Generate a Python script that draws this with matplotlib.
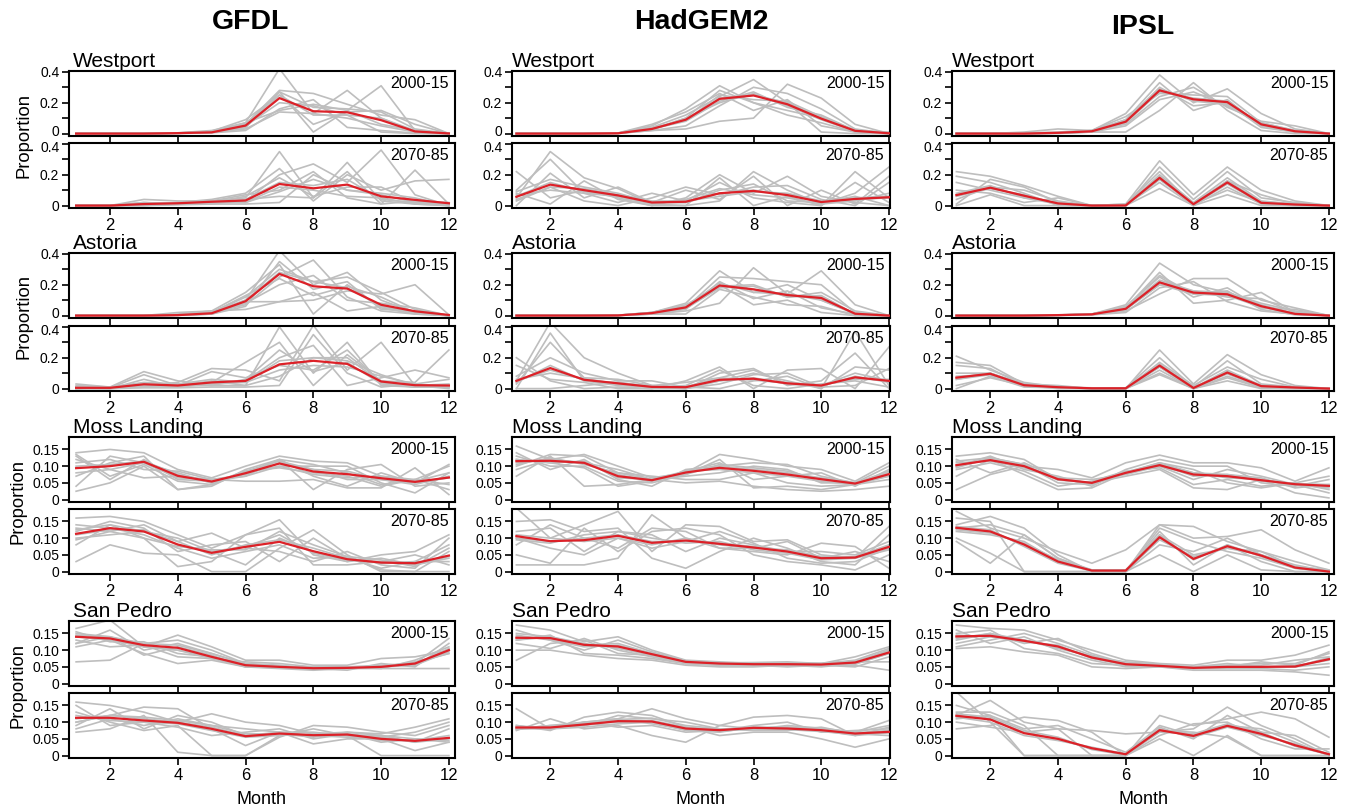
import numpy as np
import matplotlib
matplotlib.use("Agg")
import matplotlib.pyplot as plt
import matplotlib.transforms as mtransforms

plt.rcParams['font.family'] = ['Liberation Sans', 'DejaVu Sans']

months = np.arange(1, 13)
models = ["GFDL", "HadGEM2", "IPSL"]
sites = ["Westport", "Astoria", "Moss Landing", "San Pedro"]
periods = ["2000-15", "2070-85"]

# ---------------- GFDL ----------------
gfdl_westport_hist_mean = [0, 0, 0, 0.003, 0.008, 0.052, 0.23, 0.145, 0.138, 0.087, 0.014, 0.001]
gfdl_westport_hist_runs = [
    [0, 0, 0, 0.005, 0.02, 0.07, 0.42, 0.13, 0.10, 0.05, 0.01, 0],
    [0, 0, 0, 0.003, 0.01, 0.04, 0.27, 0.01, 0.15, 0.31, 0.02, 0],
    [0, 0, 0, 0.002, 0.01, 0.06, 0.28, 0.26, 0.19, 0.12, 0.09, 0],
    [0, 0, 0, 0.002, 0.008, 0.03, 0.14, 0.13, 0.28, 0.10, 0.02, 0],
    [0, 0, 0, 0.001, 0.005, 0.02, 0.16, 0.22, 0.04, 0.02, 0.003, 0],
    [0, 0, 0, 0.004, 0.015, 0.09, 0.25, 0.06, 0.14, 0.15, 0.06, 0],
    [0, 0, 0, 0.003, 0.01, 0.05, 0.20, 0.18, 0.12, 0.01, 0.0, 0],
    [0, 0, 0, 0.004, 0.01, 0.06, 0.27, 0.17, 0.16, 0.14, 0.03, 0],
    [0, 0, 0, 0.002, 0.006, 0.04, 0.25, 0.12, 0.12, 0.10, 0.01, 0],
    [0, 0, 0, 0.003, 0.009, 0.07, 0.15, 0.19, 0.15, 0.06, 0.02, 0],
]
gfdl_westport_fut_mean = [0, 0, 0.01, 0.015, 0.025, 0.033, 0.14, 0.112, 0.136, 0.06, 0.037, 0.015]
gfdl_westport_fut_runs = [
    [0, 0, 0.04, 0.03, 0.03, 0.05, 0.35, 0.05, 0.28, 0.03, 0.01, 0],
    [0, 0, 0.01, 0.01, 0.02, 0.03, 0.20, 0.27, 0.15, 0.36, 0.07, 0],
    [0, 0, 0.005, 0.01, 0.03, 0.07, 0.10, 0.22, 0.05, 0.01, 0.23, 0.01],
    [0, 0, 0.01, 0.02, 0.04, 0.08, 0.24, 0.03, 0.20, 0.10, 0.16, 0.17],
    [0, 0, 0, 0.005, 0.01, 0.01, 0.02, 0.20, 0.10, 0.07, 0.02, 0],
    [0, 0, 0.02, 0.01, 0.02, 0.02, 0.12, 0.10, 0.06, 0.05, 0.01, 0],
    [0, 0, 0, 0.01, 0.01, 0.04, 0.06, 0.05, 0.22, 0.01, 0.03, 0.02],
    [0, 0, 0.02, 0.01, 0.02, 0.04, 0.15, 0.13, 0.17, 0.04, 0.02, 0.01],
    [0, 0, 0.005, 0.02, 0.03, 0.02, 0.09, 0.17, 0.10, 0.08, 0.05, 0],
    [0, 0, 0.01, 0.015, 0.02, 0.06, 0.18, 0.06, 0.12, 0.12, 0.02, 0.01],
]
gfdl_astoria_hist_mean = [0, 0, 0, 0.003, 0.015, 0.093, 0.27, 0.19, 0.175, 0.07, 0.028, 0.004]
gfdl_astoria_hist_runs = [
    [0, 0, 0, 0.005, 0.02, 0.10, 0.42, 0.20, 0.28, 0.10, 0.02, 0],
    [0, 0, 0, 0.01, 0.03, 0.15, 0.33, 0.01, 0.20, 0.05, 0.01, 0],
    [0, 0, 0, 0.002, 0.01, 0.09, 0.09, 0.10, 0.16, 0.14, 0.20, 0.005],
    [0, 0, 0, 0.003, 0.02, 0.07, 0.25, 0.36, 0.12, 0.03, 0.01, 0],
    [0, 0, 0, 0.02, 0.03, 0.04, 0.09, 0.15, 0.03, 0.06, 0.02, 0],
    [0, 0, 0, 0.004, 0.02, 0.12, 0.30, 0.22, 0.25, 0.15, 0.04, 0],
    [0, 0, 0, 0.002, 0.01, 0.08, 0.20, 0.26, 0.10, 0.08, 0.05, 0],
    [0, 0, 0, 0.005, 0.02, 0.10, 0.28, 0.22, 0.18, 0.06, 0.02, 0],
    [0, 0, 0, 0.003, 0.01, 0.06, 0.35, 0.17, 0.22, 0.04, 0.03, 0],
    [0, 0, 0, 0.002, 0.02, 0.13, 0.24, 0.13, 0.19, 0.12, 0.02, 0],
]
gfdl_astoria_fut_mean = [0.005, 0.005, 0.028, 0.02, 0.04, 0.05, 0.157, 0.18, 0.16, 0.046, 0.022, 0.02]
gfdl_astoria_fut_runs = [
    [0.03, 0.01, 0.11, 0.05, 0.02, 0.02, 0.40, 0.10, 0.30, 0.02, 0.01, 0.02],
    [0.01, 0.005, 0.02, 0.04, 0.13, 0.12, 0.05, 0.41, 0.12, 0.30, 0.02, 0],
    [0, 0, 0.06, 0.01, 0.04, 0.17, 0.30, 0.02, 0.22, 0.05, 0.04, 0.25],
    [0.02, 0.01, 0.01, 0.03, 0.03, 0.05, 0.20, 0.28, 0.02, 0.07, 0.12, 0.07],
    [0, 0, 0.005, 0.005, 0.01, 0.01, 0.02, 0.35, 0.10, 0.01, 0.03, 0.005],
    [0.01, 0.005, 0.09, 0.02, 0.11, 0.07, 0.15, 0.12, 0.25, 0.04, 0.01, 0.01],
    [0, 0.01, 0.03, 0.02, 0.05, 0.02, 0.08, 0.20, 0.18, 0.09, 0.02, 0.03],
    [0.01, 0.005, 0.02, 0.01, 0.03, 0.04, 0.18, 0.20, 0.20, 0.04, 0.02, 0.01],
    [0, 0.01, 0.04, 0.03, 0.06, 0.04, 0.12, 0.15, 0.14, 0.08, 0.03, 0.06],
    [0.005, 0, 0.015, 0.02, 0.02, 0.06, 0.25, 0.11, 0.17, 0.03, 0.01, 0.01],
]
gfdl_moss_hist_mean = [0.094, 0.1, 0.113, 0.071, 0.054, 0.079, 0.108, 0.084, 0.076, 0.064, 0.053, 0.066]
gfdl_moss_hist_runs = [
    [0.14, 0.15, 0.14, 0.09, 0.065, 0.10, 0.13, 0.115, 0.11, 0.07, 0.06, 0.10],
    [0.025, 0.05, 0.10, 0.03, 0.04, 0.09, 0.12, 0.03, 0.09, 0.105, 0.04, 0.05],
    [0.12, 0.09, 0.065, 0.07, 0.06, 0.055, 0.055, 0.06, 0.035, 0.035, 0.095, 0.015],
    [0.04, 0.13, 0.11, 0.08, 0.05, 0.08, 0.10, 0.10, 0.10, 0.05, 0.02, 0.08],
    [0.13, 0.06, 0.12, 0.06, 0.055, 0.07, 0.12, 0.07, 0.04, 0.08, 0.05, 0.105],
    [0.07, 0.11, 0.13, 0.03, 0.045, 0.085, 0.095, 0.08, 0.07, 0.04, 0.06, 0.03],
    [0.11, 0.12, 0.09, 0.085, 0.06, 0.075, 0.11, 0.09, 0.06, 0.06, 0.045, 0.07],
    [0.10, 0.105, 0.115, 0.075, 0.05, 0.085, 0.115, 0.09, 0.085, 0.06, 0.05, 0.065],
    [0.08, 0.09, 0.11, 0.065, 0.06, 0.07, 0.10, 0.075, 0.065, 0.07, 0.055, 0.08],
    [0.135, 0.07, 0.105, 0.055, 0.045, 0.08, 0.12, 0.105, 0.08, 0.045, 0.06, 0.045],
]
gfdl_moss_fut_mean = [0.113, 0.13, 0.12, 0.081, 0.056, 0.074, 0.089, 0.061, 0.037, 0.027, 0.025, 0.048]
gfdl_moss_fut_runs = [
    [0.16, 0.165, 0.15, 0.11, 0.07, 0.11, 0.155, 0.05, 0.03, 0.05, 0.06, 0.11],
    [0.03, 0.08, 0.055, 0.05, 0.0, 0.0, 0.07, 0.125, 0.05, 0.0, 0.0, 0.0],
    [0.13, 0.12, 0.14, 0.09, 0.115, 0.07, 0.06, 0.03, 0.06, 0.02, 0.01, 0.10],
    [0.08, 0.14, 0.10, 0.015, 0.03, 0.11, 0.13, 0.02, 0.02, 0.03, 0.05, 0.02],
    [0.12, 0.15, 0.13, 0.06, 0.08, 0.09, 0.03, 0.10, 0.04, 0.01, 0.03, 0.08],
    [0.10, 0.11, 0.12, 0.10, 0.06, 0.02, 0.10, 0.06, 0.03, 0.04, 0.02, 0.04],
    [0.14, 0.13, 0.11, 0.07, 0.04, 0.06, 0.08, 0.04, 0.045, 0.005, 0.0, 0.06],
    [0.11, 0.125, 0.125, 0.08, 0.06, 0.075, 0.11, 0.055, 0.035, 0.03, 0.02, 0.045],
    [0.125, 0.14, 0.12, 0.09, 0.05, 0.08, 0.095, 0.07, 0.04, 0.025, 0.03, 0.03],
    [0.095, 0.12, 0.10, 0.075, 0.065, 0.065, 0.12, 0.08, 0.045, 0.035, 0.015, 0.07],
]
gfdl_sanpedro_hist_mean = [0.14, 0.135, 0.115, 0.107, 0.08, 0.055, 0.05, 0.046, 0.047, 0.05, 0.06, 0.1]
gfdl_sanpedro_hist_runs = [
    [0.065, 0.07, 0.12, 0.13, 0.10, 0.06, 0.05, 0.045, 0.05, 0.055, 0.06, 0.135],
    [0.165, 0.19, 0.11, 0.145, 0.11, 0.07, 0.07, 0.055, 0.055, 0.075, 0.08, 0.10],
    [0.11, 0.13, 0.09, 0.06, 0.07, 0.05, 0.045, 0.04, 0.045, 0.045, 0.045, 0.045],
    [0.155, 0.125, 0.125, 0.09, 0.08, 0.055, 0.05, 0.05, 0.05, 0.05, 0.065, 0.09],
    [0.12, 0.16, 0.10, 0.12, 0.09, 0.06, 0.055, 0.045, 0.04, 0.06, 0.05, 0.12],
    [0.13, 0.11, 0.115, 0.08, 0.075, 0.065, 0.06, 0.05, 0.05, 0.045, 0.07, 0.11],
    [0.145, 0.14, 0.085, 0.11, 0.085, 0.05, 0.05, 0.045, 0.05, 0.05, 0.055, 0.095],
    [0.14, 0.13, 0.11, 0.10, 0.08, 0.055, 0.05, 0.045, 0.048, 0.05, 0.06, 0.10],
    [0.15, 0.14, 0.12, 0.115, 0.09, 0.058, 0.052, 0.048, 0.047, 0.052, 0.058, 0.105],
    [0.12, 0.14, 0.11, 0.10, 0.075, 0.05, 0.048, 0.043, 0.045, 0.048, 0.062, 0.09],
]
gfdl_sanpedro_fut_mean = [0.113, 0.113, 0.105, 0.098, 0.08, 0.058, 0.066, 0.061, 0.063, 0.05, 0.044, 0.053]
gfdl_sanpedro_fut_runs = [
    [0.16, 0.15, 0.13, 0.10, 0.125, 0.10, 0.09, 0.065, 0.07, 0.065, 0.085, 0.11],
    [0.07, 0.08, 0.12, 0.01, 0.0, 0.0, 0.06, 0.08, 0.06, 0.0, 0.0, 0.0],
    [0.10, 0.12, 0.145, 0.14, 0.08, 0.03, 0.07, 0.035, 0.05, 0.05, 0.015, 0.04],
    [0.13, 0.10, 0.075, 0.09, 0.0, 0.0, 0.055, 0.09, 0.085, 0.07, 0.06, 0.09],
    [0.09, 0.14, 0.08, 0.12, 0.10, 0.06, 0.065, 0.06, 0.055, 0.055, 0.07, 0.10],
    [0.15, 0.09, 0.10, 0.085, 0.06, 0.07, 0.08, 0.05, 0.065, 0.04, 0.05, 0.045],
    [0.08, 0.11, 0.09, 0.11, 0.09, 0.08, 0.07, 0.07, 0.06, 0.06, 0.04, 0.08],
    [0.11, 0.12, 0.11, 0.10, 0.085, 0.06, 0.07, 0.06, 0.065, 0.055, 0.04, 0.05],
    [0.12, 0.105, 0.10, 0.095, 0.075, 0.055, 0.06, 0.065, 0.06, 0.045, 0.045, 0.06],
    [0.10, 0.12, 0.115, 0.105, 0.09, 0.065, 0.065, 0.055, 0.07, 0.06, 0.05, 0.04],
]

# ---------------- HadGEM2 ----------------
had_westport_hist_mean = [0, 0, 0, 0.002, 0.03, 0.09, 0.225, 0.247, 0.19, 0.097, 0.018, 0.002]
had_westport_hist_runs = [
    [0, 0, 0, 0.003, 0.05, 0.16, 0.31, 0.20, 0.15, 0.10, 0.02, 0],
    [0, 0, 0, 0.002, 0.02, 0.03, 0.08, 0.10, 0.32, 0.23, 0.06, 0],
    [0, 0, 0, 0.003, 0.04, 0.12, 0.24, 0.35, 0.20, 0.01, 0.0, 0],
    [0, 0, 0, 0.001, 0.02, 0.05, 0.18, 0.30, 0.26, 0.16, 0.03, 0],
    [0, 0, 0, 0.002, 0.03, 0.10, 0.28, 0.20, 0.12, 0.07, 0.01, 0],
    [0, 0, 0, 0.002, 0.03, 0.08, 0.21, 0.27, 0.17, 0.12, 0.02, 0.01],
    [0, 0, 0, 0.004, 0.06, 0.14, 0.26, 0.15, 0.22, 0.05, 0.01, 0],
    [0, 0, 0, 0.002, 0.03, 0.09, 0.23, 0.25, 0.20, 0.10, 0.02, 0],
    [0, 0, 0, 0.003, 0.025, 0.10, 0.20, 0.26, 0.18, 0.09, 0.015, 0],
    [0, 0, 0, 0.002, 0.035, 0.085, 0.25, 0.22, 0.21, 0.11, 0.02, 0.005],
]
had_westport_fut_mean = [0.057, 0.136, 0.1, 0.066, 0.02, 0.025, 0.08, 0.095, 0.068, 0.023, 0.043, 0.054]
had_westport_fut_runs = [
    [0.22, 0.05, 0.10, 0.05, 0.0, 0.05, 0.20, 0.08, 0.19, 0.06, 0.02, 0.0],
    [0.05, 0.35, 0.18, 0.11, 0.01, 0.0, 0.03, 0.22, 0.10, 0.01, 0.08, 0.25],
    [0.10, 0.30, 0.08, 0.02, 0.08, 0.03, 0.15, 0.05, 0.02, 0.0, 0.22, 0.05],
    [0.0, 0.21, 0.05, 0.12, 0.02, 0.10, 0.04, 0.19, 0.0, 0.10, 0.01, 0.19],
    [0.08, 0.01, 0.16, 0.04, 0.0, 0.0, 0.18, 0.0, 0.06, 0.0, 0.15, 0.02],
    [0.03, 0.12, 0.03, 0.0, 0.05, 0.12, 0.07, 0.12, 0.13, 0.04, 0.0, 0.15],
    [0.09, 0.17, 0.12, 0.08, 0.02, 0.02, 0.10, 0.14, 0.03, 0.02, 0.06, 0.0],
    [0.06, 0.15, 0.09, 0.06, 0.02, 0.02, 0.08, 0.10, 0.07, 0.02, 0.04, 0.05],
    [0.04, 0.12, 0.11, 0.07, 0.03, 0.03, 0.06, 0.09, 0.08, 0.03, 0.05, 0.06],
    [0.07, 0.10, 0.08, 0.06, 0.01, 0.04, 0.11, 0.07, 0.05, 0.01, 0.03, 0.08],
]
had_astoria_hist_mean = [0, 0, 0, 0.001, 0.016, 0.053, 0.195, 0.17, 0.133, 0.114, 0.012, 0.0]
had_astoria_hist_runs = [
    [0, 0, 0, 0.002, 0.02, 0.08, 0.29, 0.15, 0.20, 0.10, 0.01, 0],
    [0, 0, 0, 0.001, 0.01, 0.03, 0.08, 0.31, 0.14, 0.29, 0.07, 0],
    [0, 0, 0, 0.002, 0.02, 0.06, 0.20, 0.07, 0.10, 0.02, 0.0, 0],
    [0, 0, 0, 0.001, 0.015, 0.05, 0.25, 0.24, 0.22, 0.20, 0.02, 0],
    [0, 0, 0, 0.002, 0.01, 0.01, 0.17, 0.12, 0.07, 0.06, 0.0, 0],
    [0, 0, 0, 0.003, 0.02, 0.07, 0.19, 0.20, 0.12, 0.15, 0.03, 0],
    [0, 0, 0, 0.001, 0.01, 0.04, 0.22, 0.11, 0.16, 0.05, 0.01, 0],
    [0, 0, 0, 0.001, 0.015, 0.05, 0.19, 0.17, 0.13, 0.12, 0.01, 0],
    [0, 0, 0, 0.002, 0.02, 0.06, 0.21, 0.15, 0.14, 0.10, 0.015, 0],
    [0, 0, 0, 0.001, 0.012, 0.045, 0.18, 0.19, 0.12, 0.13, 0.01, 0],
]
had_astoria_fut_mean = [0.05, 0.133, 0.057, 0.034, 0.011, 0.009, 0.057, 0.064, 0.034, 0.02, 0.073, 0.05]
had_astoria_fut_runs = [
    [0.05, 0.43, 0.20, 0.10, 0.02, 0.0, 0.05, 0.10, 0.05, 0.0, 0.37, 0.02],
    [0.20, 0.05, 0.0, 0.01, 0.0, 0.05, 0.14, 0.0, 0.12, 0.13, 0.0, 0.27],
    [0.0, 0.36, 0.05, 0.02, 0.01, 0.0, 0.10, 0.13, 0.02, 0.05, 0.23, 0.0],
    [0.08, 0.20, 0.10, 0.05, 0.05, 0.01, 0.0, 0.05, 0.08, 0.0, 0.14, 0.12],
    [0.0, 0.0, 0.02, 0.04, 0.01, 0.02, 0.12, 0.02, 0.0, 0.03, 0.05, 0.01],
    [0.15, 0.06, 0.04, 0.0, 0.0, 0.0, 0.03, 0.09, 0.10, 0.01, 0.02, 0.13],
    [0.03, 0.30, 0.07, 0.06, 0.02, 0.04, 0.07, 0.12, 0.03, 0.02, 0.10, 0.05],
    [0.05, 0.12, 0.06, 0.03, 0.01, 0.01, 0.06, 0.06, 0.04, 0.02, 0.07, 0.05],
    [0.04, 0.15, 0.05, 0.04, 0.015, 0.005, 0.05, 0.07, 0.03, 0.015, 0.08, 0.04],
    [0.06, 0.10, 0.065, 0.03, 0.01, 0.012, 0.07, 0.055, 0.035, 0.025, 0.06, 0.06],
]
had_moss_hist_mean = [0.115, 0.116, 0.11, 0.07, 0.058, 0.081, 0.095, 0.086, 0.075, 0.061, 0.048, 0.076]
had_moss_hist_runs = [
    [0.16, 0.12, 0.135, 0.10, 0.065, 0.08, 0.135, 0.12, 0.10, 0.09, 0.055, 0.11],
    [0.07, 0.13, 0.04, 0.045, 0.06, 0.05, 0.055, 0.04, 0.03, 0.025, 0.03, 0.04],
    [0.14, 0.09, 0.12, 0.06, 0.04, 0.09, 0.10, 0.11, 0.105, 0.07, 0.05, 0.10],
    [0.10, 0.135, 0.13, 0.08, 0.07, 0.06, 0.06, 0.08, 0.05, 0.04, 0.045, 0.06],
    [0.12, 0.11, 0.095, 0.04, 0.055, 0.085, 0.11, 0.06, 0.07, 0.08, 0.04, 0.09],
    [0.09, 0.12, 0.11, 0.09, 0.06, 0.07, 0.08, 0.10, 0.09, 0.05, 0.05, 0.07],
    [0.13, 0.10, 0.10, 0.055, 0.05, 0.075, 0.12, 0.035, 0.04, 0.03, 0.045, 0.08],
    [0.11, 0.12, 0.11, 0.075, 0.055, 0.08, 0.10, 0.09, 0.08, 0.065, 0.05, 0.08],
    [0.12, 0.11, 0.115, 0.065, 0.06, 0.085, 0.09, 0.08, 0.07, 0.055, 0.045, 0.07],
    [0.105, 0.125, 0.105, 0.08, 0.06, 0.075, 0.105, 0.095, 0.085, 0.06, 0.05, 0.085],
]
had_moss_fut_mean = [0.106, 0.091, 0.094, 0.107, 0.086, 0.093, 0.083, 0.072, 0.06, 0.04, 0.042, 0.074]
had_moss_fut_runs = [
    [0.19, 0.10, 0.14, 0.18, 0.06, 0.14, 0.135, 0.09, 0.095, 0.05, 0.04, 0.135],
    [0.02, 0.02, 0.02, 0.04, 0.17, 0.10, 0.07, 0.06, 0.05, 0.085, 0.075, 0.01],
    [0.15, 0.155, 0.12, 0.13, 0.04, 0.01, 0.06, 0.10, 0.07, 0.03, 0.02, 0.11],
    [0.05, 0.025, 0.13, 0.06, 0.12, 0.13, 0.11, 0.05, 0.03, 0.02, 0.005, 0.05],
    [0.12, 0.13, 0.06, 0.12, 0.11, 0.06, 0.10, 0.08, 0.06, 0.06, 0.05, 0.09],
    [0.08, 0.14, 0.10, 0.07, 0.13, 0.12, 0.07, 0.07, 0.09, 0.04, 0.06, 0.03],
    [0.10, 0.07, 0.05, 0.10, 0.07, 0.09, 0.12, 0.085, 0.04, 0.025, 0.03, 0.07],
    [0.10, 0.09, 0.10, 0.11, 0.09, 0.09, 0.085, 0.075, 0.06, 0.04, 0.04, 0.075],
    [0.11, 0.10, 0.09, 0.10, 0.08, 0.10, 0.08, 0.07, 0.065, 0.045, 0.045, 0.08],
    [0.095, 0.085, 0.11, 0.12, 0.10, 0.085, 0.09, 0.065, 0.055, 0.035, 0.04, 0.065],
]
had_sanpedro_hist_mean = [0.137, 0.136, 0.116, 0.111, 0.088, 0.065, 0.06, 0.058, 0.058, 0.057, 0.063, 0.093]
had_sanpedro_hist_runs = [
    [0.175, 0.16, 0.125, 0.14, 0.10, 0.07, 0.065, 0.06, 0.06, 0.06, 0.08, 0.11],
    [0.07, 0.12, 0.13, 0.09, 0.085, 0.06, 0.055, 0.055, 0.05, 0.055, 0.055, 0.04],
    [0.10, 0.10, 0.085, 0.075, 0.07, 0.055, 0.05, 0.05, 0.055, 0.05, 0.06, 0.10],
    [0.15, 0.14, 0.115, 0.12, 0.09, 0.065, 0.06, 0.06, 0.06, 0.06, 0.065, 0.065],
    [0.12, 0.105, 0.135, 0.10, 0.08, 0.06, 0.06, 0.055, 0.06, 0.055, 0.05, 0.08],
    [0.16, 0.13, 0.10, 0.13, 0.095, 0.068, 0.062, 0.063, 0.065, 0.06, 0.07, 0.105],
    [0.13, 0.145, 0.09, 0.085, 0.075, 0.06, 0.055, 0.06, 0.058, 0.058, 0.058, 0.09],
    [0.14, 0.135, 0.115, 0.11, 0.09, 0.065, 0.06, 0.058, 0.058, 0.057, 0.063, 0.095],
    [0.13, 0.14, 0.12, 0.105, 0.085, 0.063, 0.058, 0.056, 0.056, 0.055, 0.06, 0.09],
    [0.145, 0.13, 0.11, 0.115, 0.09, 0.067, 0.062, 0.06, 0.06, 0.06, 0.066, 0.10],
]
had_sanpedro_fut_mean = [0.084, 0.084, 0.093, 0.103, 0.102, 0.081, 0.076, 0.083, 0.081, 0.076, 0.066, 0.071]
had_sanpedro_fut_runs = [
    [0.14, 0.08, 0.10, 0.11, 0.14, 0.11, 0.09, 0.08, 0.08, 0.08, 0.07, 0.105],
    [0.075, 0.11, 0.08, 0.09, 0.06, 0.04, 0.09, 0.115, 0.12, 0.11, 0.06, 0.07],
    [0.09, 0.075, 0.115, 0.13, 0.12, 0.085, 0.06, 0.07, 0.07, 0.05, 0.025, 0.05],
    [0.08, 0.09, 0.10, 0.085, 0.09, 0.07, 0.075, 0.09, 0.10, 0.07, 0.075, 0.08],
    [0.085, 0.085, 0.09, 0.12, 0.11, 0.10, 0.08, 0.075, 0.075, 0.085, 0.065, 0.06],
    [0.08, 0.08, 0.085, 0.095, 0.10, 0.075, 0.07, 0.085, 0.085, 0.075, 0.06, 0.085],
    [0.085, 0.085, 0.095, 0.10, 0.10, 0.08, 0.075, 0.085, 0.08, 0.075, 0.065, 0.07],
    [0.08, 0.09, 0.09, 0.105, 0.105, 0.085, 0.078, 0.08, 0.085, 0.08, 0.068, 0.075],
    [0.09, 0.08, 0.10, 0.11, 0.095, 0.078, 0.072, 0.082, 0.078, 0.072, 0.063, 0.068],
    [0.078, 0.088, 0.098, 0.108, 0.112, 0.09, 0.08, 0.078, 0.09, 0.082, 0.07, 0.09],
]

# ---------------- IPSL ----------------
ipsl_westport_hist_mean = [0, 0, 0, 0.005, 0.015, 0.077, 0.28, 0.222, 0.204, 0.06, 0.015, 0.0]
ipsl_westport_hist_runs = [
    [0, 0, 0.01, 0.03, 0.02, 0.13, 0.38, 0.20, 0.29, 0.13, 0.03, 0],
    [0, 0, 0, 0.005, 0.01, 0.01, 0.15, 0.33, 0.15, 0.02, 0.0, 0],
    [0, 0, 0, 0.002, 0.015, 0.09, 0.33, 0.15, 0.22, 0.05, 0.01, 0],
    [0, 0, 0.005, 0.01, 0.02, 0.06, 0.24, 0.30, 0.17, 0.08, 0.05, 0],
    [0, 0, 0, 0.003, 0.01, 0.08, 0.30, 0.18, 0.20, 0.04, 0.01, 0],
    [0, 0, 0, 0.004, 0.02, 0.11, 0.26, 0.25, 0.24, 0.07, 0.02, 0],
    [0, 0, 0, 0.001, 0.01, 0.05, 0.22, 0.27, 0.18, 0.06, 0.015, 0],
    [0, 0, 0, 0.005, 0.015, 0.08, 0.28, 0.22, 0.20, 0.06, 0.015, 0],
    [0, 0, 0, 0.004, 0.012, 0.07, 0.27, 0.23, 0.21, 0.055, 0.012, 0],
    [0, 0, 0, 0.006, 0.018, 0.09, 0.29, 0.21, 0.19, 0.07, 0.02, 0],
]
ipsl_westport_fut_mean = [0.068, 0.116, 0.064, 0.014, 0.0, 0.001, 0.18, 0.009, 0.15, 0.018, 0.007, 0.0]
ipsl_westport_fut_runs = [
    [0.22, 0.19, 0.13, 0.06, 0.0, 0.01, 0.29, 0.07, 0.25, 0.10, 0.03, 0],
    [0.0, 0.07, 0.0, 0.0, 0.0, 0.0, 0.11, 0.0, 0.07, 0.0, 0.0, 0],
    [0.15, 0.10, 0.05, 0.01, 0.0, 0.0, 0.20, 0.02, 0.18, 0.03, 0.01, 0],
    [0.01, 0.17, 0.12, 0.02, 0.0, 0.005, 0.15, 0.0, 0.12, 0.01, 0.0, 0],
    [0.10, 0.08, 0.02, 0.05, 0.0, 0.0, 0.25, 0.04, 0.22, 0.05, 0.02, 0],
    [0.19, 0.15, 0.08, 0.0, 0.0, 0.0, 0.17, 0.01, 0.10, 0.02, 0.005, 0],
    [0.04, 0.12, 0.10, 0.03, 0.0, 0.01, 0.22, 0.0, 0.16, 0.07, 0.01, 0],
    [0.07, 0.12, 0.06, 0.015, 0.0, 0.0, 0.18, 0.01, 0.15, 0.02, 0.007, 0],
    [0.06, 0.11, 0.07, 0.01, 0.0, 0.0, 0.17, 0.005, 0.14, 0.015, 0.005, 0],
    [0.08, 0.13, 0.05, 0.02, 0.0, 0.002, 0.19, 0.015, 0.16, 0.025, 0.01, 0],
]
ipsl_astoria_hist_mean = [0, 0, 0, 0.003, 0.008, 0.044, 0.215, 0.149, 0.138, 0.061, 0.011, 0.0]
ipsl_astoria_hist_runs = [
    [0, 0, 0, 0.005, 0.01, 0.07, 0.34, 0.20, 0.15, 0.08, 0.03, 0],
    [0, 0, 0, 0.002, 0.005, 0.03, 0.14, 0.24, 0.24, 0.10, 0.05, 0],
    [0, 0, 0, 0.003, 0.01, 0.05, 0.28, 0.08, 0.10, 0.15, 0.02, 0],
    [0, 0, 0, 0.001, 0.005, 0.02, 0.18, 0.22, 0.09, 0.03, 0.01, 0],
    [0, 0, 0, 0.004, 0.01, 0.06, 0.25, 0.12, 0.18, 0.05, 0.04, 0],
    [0, 0, 0, 0.002, 0.008, 0.04, 0.20, 0.16, 0.12, 0.11, 0.02, 0],
    [0, 0, 0, 0.003, 0.01, 0.05, 0.26, 0.14, 0.16, 0.04, 0.005, 0],
    [0, 0, 0, 0.003, 0.008, 0.045, 0.22, 0.15, 0.14, 0.06, 0.01, 0],
    [0, 0, 0, 0.002, 0.007, 0.04, 0.20, 0.14, 0.13, 0.055, 0.01, 0],
    [0, 0, 0, 0.004, 0.01, 0.05, 0.23, 0.16, 0.15, 0.07, 0.015, 0],
]
ipsl_astoria_fut_mean = [0.071, 0.096, 0.022, 0.009, 0.002, 0.002, 0.149, 0.004, 0.104, 0.016, 0.007, 0.0]
ipsl_astoria_fut_runs = [
    [0.21, 0.12, 0.04, 0.01, 0.0, 0.0, 0.25, 0.03, 0.22, 0.09, 0.02, 0],
    [0.0, 0.08, 0.01, 0.005, 0.0, 0.0, 0.09, 0.0, 0.05, 0.0, 0.0, 0],
    [0.17, 0.15, 0.03, 0.01, 0.0, 0.005, 0.20, 0.01, 0.18, 0.03, 0.01, 0],
    [0.02, 0.07, 0.02, 0.01, 0.005, 0.0, 0.12, 0.0, 0.08, 0.01, 0.005, 0],
    [0.10, 0.10, 0.03, 0.02, 0.0, 0.0, 0.17, 0.02, 0.14, 0.06, 0.01, 0],
    [0.15, 0.13, 0.02, 0.0, 0.0, 0.0, 0.10, 0.0, 0.07, 0.005, 0.0, 0],
    [0.06, 0.09, 0.025, 0.01, 0.0, 0.002, 0.14, 0.005, 0.12, 0.02, 0.01, 0],
    [0.07, 0.10, 0.02, 0.01, 0.002, 0.0, 0.15, 0.005, 0.10, 0.015, 0.007, 0],
    [0.08, 0.09, 0.025, 0.008, 0.0, 0.002, 0.14, 0.0, 0.11, 0.02, 0.005, 0],
    [0.06, 0.10, 0.02, 0.01, 0.003, 0.003, 0.16, 0.006, 0.095, 0.012, 0.008, 0],
]
ipsl_moss_hist_mean = [0.103, 0.118, 0.1, 0.061, 0.05, 0.08, 0.103, 0.075, 0.07, 0.058, 0.046, 0.041]
ipsl_moss_hist_runs = [
    [0.03, 0.075, 0.10, 0.09, 0.065, 0.11, 0.133, 0.11, 0.11, 0.095, 0.055, 0.095],
    [0.13, 0.14, 0.12, 0.06, 0.05, 0.07, 0.09, 0.035, 0.03, 0.06, 0.02, 0.005],
    [0.07, 0.12, 0.075, 0.03, 0.035, 0.08, 0.11, 0.09, 0.05, 0.035, 0.05, 0.07],
    [0.12, 0.08, 0.11, 0.065, 0.06, 0.075, 0.10, 0.06, 0.09, 0.07, 0.045, 0.02],
    [0.10, 0.13, 0.09, 0.07, 0.04, 0.09, 0.12, 0.10, 0.10, 0.05, 0.04, 0.06],
    [0.09, 0.11, 0.085, 0.04, 0.055, 0.085, 0.095, 0.045, 0.06, 0.04, 0.05, 0.03],
    [0.115, 0.125, 0.105, 0.05, 0.045, 0.08, 0.105, 0.08, 0.075, 0.065, 0.035, 0.045],
    [0.10, 0.12, 0.10, 0.06, 0.05, 0.08, 0.10, 0.075, 0.07, 0.06, 0.045, 0.04],
    [0.11, 0.115, 0.095, 0.065, 0.048, 0.078, 0.105, 0.07, 0.075, 0.055, 0.048, 0.045],
    [0.095, 0.125, 0.105, 0.058, 0.052, 0.082, 0.11, 0.08, 0.065, 0.06, 0.044, 0.035],
]
ipsl_moss_fut_mean = [0.131, 0.12, 0.081, 0.03, 0.003, 0.003, 0.103, 0.038, 0.076, 0.048, 0.012, 0.0]
ipsl_moss_fut_runs = [
    [0.18, 0.13, 0.10, 0.06, 0.025, 0.065, 0.14, 0.135, 0.09, 0.06, 0.03, 0.005],
    [0.09, 0.025, 0.11, 0.04, 0.005, 0.0, 0.05, 0.0, 0.05, 0.005, 0.0, 0.0],
    [0.14, 0.165, 0.13, 0.05, 0.0, 0.0, 0.14, 0.10, 0.105, 0.125, 0.065, 0.025],
    [0.10, 0.055, 0.0, 0.0, 0.0, 0.0, 0.08, 0.06, 0.10, 0.05, 0.02, 0.0],
    [0.16, 0.15, 0.0, 0.0, 0.0, 0.0, 0.12, 0.02, 0.08, 0.03, 0.0, 0.0],
    [0.12, 0.11, 0.09, 0.03, 0.005, 0.005, 0.11, 0.05, 0.07, 0.06, 0.015, 0.005],
    [0.13, 0.14, 0.11, 0.04, 0.0, 0.0, 0.13, 0.09, 0.06, 0.04, 0.01, 0.0],
    [0.13, 0.12, 0.08, 0.03, 0.003, 0.002, 0.10, 0.04, 0.075, 0.05, 0.012, 0.0],
    [0.125, 0.115, 0.085, 0.035, 0.004, 0.004, 0.11, 0.035, 0.08, 0.045, 0.01, 0.0],
    [0.135, 0.125, 0.075, 0.025, 0.002, 0.002, 0.095, 0.045, 0.07, 0.05, 0.015, 0.002],
]
ipsl_sanpedro_hist_mean = [0.141, 0.143, 0.128, 0.111, 0.078, 0.058, 0.053, 0.047, 0.05, 0.05, 0.051, 0.073]
ipsl_sanpedro_hist_runs = [
    [0.175, 0.165, 0.16, 0.13, 0.10, 0.07, 0.06, 0.055, 0.07, 0.07, 0.085, 0.115],
    [0.105, 0.11, 0.095, 0.085, 0.05, 0.045, 0.05, 0.04, 0.04, 0.04, 0.035, 0.025],
    [0.13, 0.15, 0.12, 0.135, 0.09, 0.06, 0.055, 0.05, 0.055, 0.06, 0.06, 0.09],
    [0.16, 0.12, 0.14, 0.10, 0.07, 0.05, 0.05, 0.045, 0.045, 0.045, 0.04, 0.05],
    [0.12, 0.14, 0.13, 0.11, 0.08, 0.065, 0.058, 0.048, 0.05, 0.055, 0.07, 0.08],
    [0.15, 0.16, 0.105, 0.09, 0.06, 0.055, 0.052, 0.05, 0.06, 0.05, 0.05, 0.06],
    [0.11, 0.13, 0.15, 0.12, 0.085, 0.06, 0.055, 0.045, 0.05, 0.065, 0.055, 0.095],
    [0.14, 0.145, 0.13, 0.11, 0.08, 0.058, 0.053, 0.047, 0.05, 0.05, 0.05, 0.075],
    [0.145, 0.14, 0.125, 0.115, 0.075, 0.056, 0.051, 0.046, 0.049, 0.051, 0.053, 0.07],
    [0.135, 0.15, 0.13, 0.105, 0.082, 0.06, 0.055, 0.048, 0.052, 0.049, 0.05, 0.078],
]
ipsl_sanpedro_fut_mean = [0.119, 0.108, 0.067, 0.05, 0.022, 0.004, 0.076, 0.059, 0.089, 0.065, 0.031, 0.004]
ipsl_sanpedro_fut_runs = [
    [0.19, 0.10, 0.0, 0.0, 0.0, 0.0, 0.05, 0.0, 0.06, 0.0, 0.0, 0.0],
    [0.12, 0.165, 0.10, 0.08, 0.075, 0.065, 0.07, 0.08, 0.145, 0.09, 0.05, 0.0],
    [0.08, 0.09, 0.115, 0.105, 0.07, 0.0, 0.12, 0.09, 0.11, 0.13, 0.11, 0.055],
    [0.15, 0.12, 0.0, 0.0, 0.0, 0.0, 0.09, 0.06, 0.09, 0.08, 0.04, 0.0],
    [0.10, 0.085, 0.07, 0.08, 0.0, 0.0, 0.06, 0.095, 0.10, 0.05, 0.02, 0.02],
    [0.13, 0.13, 0.09, 0.0, 0.0, 0.0, 0.075, 0.07, 0.055, 0.0, 0.0, 0.0],
    [0.11, 0.12, 0.08, 0.09, 0.05, 0.01, 0.085, 0.05, 0.12, 0.07, 0.06, 0.01],
    [0.12, 0.11, 0.07, 0.05, 0.02, 0.003, 0.075, 0.06, 0.09, 0.065, 0.03, 0.004],
    [0.115, 0.10, 0.06, 0.045, 0.025, 0.005, 0.08, 0.055, 0.085, 0.06, 0.035, 0.005],
    [0.125, 0.115, 0.075, 0.055, 0.018, 0.002, 0.07, 0.065, 0.095, 0.07, 0.028, 0.003],
]

# panels: model -> list of (mean, runs) per row (site x period)
panels = {
    "GFDL": [
        (gfdl_westport_hist_mean, gfdl_westport_hist_runs), (gfdl_westport_fut_mean, gfdl_westport_fut_runs),
        (gfdl_astoria_hist_mean, gfdl_astoria_hist_runs), (gfdl_astoria_fut_mean, gfdl_astoria_fut_runs),
        (gfdl_moss_hist_mean, gfdl_moss_hist_runs), (gfdl_moss_fut_mean, gfdl_moss_fut_runs),
        (gfdl_sanpedro_hist_mean, gfdl_sanpedro_hist_runs), (gfdl_sanpedro_fut_mean, gfdl_sanpedro_fut_runs),
    ],
    "HadGEM2": [
        (had_westport_hist_mean, had_westport_hist_runs), (had_westport_fut_mean, had_westport_fut_runs),
        (had_astoria_hist_mean, had_astoria_hist_runs), (had_astoria_fut_mean, had_astoria_fut_runs),
        (had_moss_hist_mean, had_moss_hist_runs), (had_moss_fut_mean, had_moss_fut_runs),
        (had_sanpedro_hist_mean, had_sanpedro_hist_runs), (had_sanpedro_fut_mean, had_sanpedro_fut_runs),
    ],
    "IPSL": [
        (ipsl_westport_hist_mean, ipsl_westport_hist_runs), (ipsl_westport_fut_mean, ipsl_westport_fut_runs),
        (ipsl_astoria_hist_mean, ipsl_astoria_hist_runs), (ipsl_astoria_fut_mean, ipsl_astoria_fut_runs),
        (ipsl_moss_hist_mean, ipsl_moss_hist_runs), (ipsl_moss_fut_mean, ipsl_moss_fut_runs),
        (ipsl_sanpedro_hist_mean, ipsl_sanpedro_hist_runs), (ipsl_sanpedro_fut_mean, ipsl_sanpedro_fut_runs),
    ],
}

# layout in pixels
W, H = 1349, 809
col_left = [69, 512, 952]
col_right = [455, 890, 1334]
col_xlim = [(0.79, 12.18), (0.87, 12.03), (0.87, 12.15)]
row_top = [71, 143, 253, 326, 437, 509, 621, 693]
panel_h = 65
title_xy = [(251, 22), (701, 22), (1143, 27)]
ylab_xy = [(24, 135), (24, 316), (17.5, 501), (17.5, 685)]

gray = '#BEBEBE'
red = '#DC2128'

fig = plt.figure(figsize=(W / 100, H / 100), dpi=100)

for c, model in enumerate(models):
    for r in range(8):
        site = sites[r // 2]
        period = periods[r % 2]
        mean, runs = panels[model][r]
        x0 = col_left[c] / W
        w = (col_right[c] - col_left[c]) / W
        y0 = 1 - (row_top[r] + panel_h) / H
        ax = fig.add_axes([x0, y0, w, panel_h / H])

        for run in runs:
            ax.plot(months, run, color=gray, lw=1.2, zorder=2)
        ax.plot(months, mean, color=red, lw=1.6, zorder=3)

        ax.set_xlim(*col_xlim[c])
        ax.set_xticks(range(2, 13, 2))
        if r % 2 == 1:
            ax.set_xticklabels([str(v) for v in range(2, 13, 2)], fontsize=12)
        else:
            ax.set_xticklabels([])

        big = r // 2 < 2
        if big:
            ax.set_ylim(-0.0156, 0.4056)
            ax.set_yticks([0, 0.1, 0.2, 0.3, 0.4])
            ax.set_yticklabels(['0', '', '0.2', '', '0.4'], fontsize=10)
        else:
            ax.set_ylim(-0.0072, 0.1872)
            ax.set_yticks([0, 0.05, 0.10, 0.15])
            ax.set_yticklabels(['0', '0.05', '0.10', '0.15'], fontsize=10)

        ax.tick_params(axis='both', direction='out', length=5, width=1.2, pad=2, colors='black')
        for s in ax.spines.values():
            s.set_linewidth(1.5)

        # the 0 / 0.4 labels of stacked panels sit very close: nudge them apart a little
        if big:
            labels = ax.get_yticklabels()
            if r % 2 == 0:
                lab, dy = labels[0], 3
            else:
                lab, dy = labels[-1], -3
            lab.set_transform(lab.get_transform() +
                              mtransforms.ScaledTranslation(0, dy / 100, fig.dpi_scale_trans))

        ax.text(0.985, 0.93, period, transform=ax.transAxes, ha='right', va='top', fontsize=11.5)
        if r % 2 == 0:
            ax.text(0.01 if c == 0 else 0.0, 1.06, site, transform=ax.transAxes,
                    ha='left', va='baseline', fontsize=15)

    fig.text(title_xy[c][0] / W, 1 - title_xy[c][1] / H, model, ha='center', va='center',
             fontsize=20.5, fontweight='bold')
    fig.text((col_left[c] + col_right[c]) / 2 / W, 1 - 800 / H, 'Month', ha='center', va='center',
             fontsize=13)

# one y label per site pair, left column only
for px, py in ylab_xy:
    fig.text(px / W, 1 - py / H, 'Proportion', rotation=90, ha='center', va='center', fontsize=13.3)

fig.savefig('out.png', dpi=100)
